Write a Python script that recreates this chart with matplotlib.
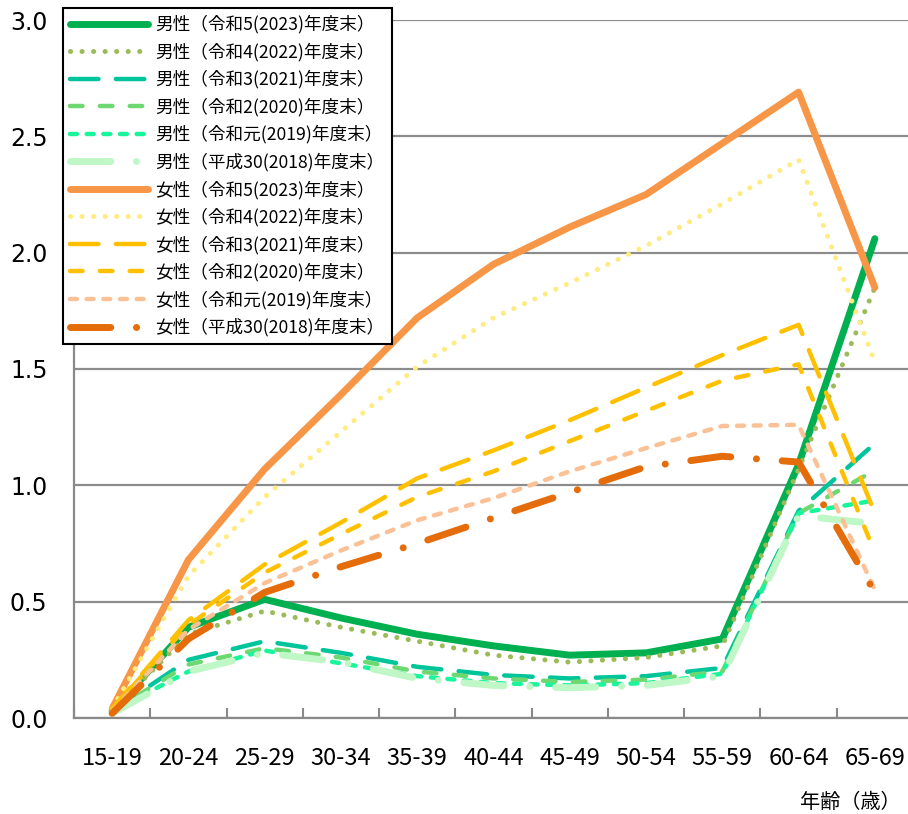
import numpy as np
import matplotlib
matplotlib.use('Agg')
import matplotlib.pyplot as plt

plt.rcParams['font.family'] = ['Noto Sans CJK JP', 'DejaVu Sans']
plt.rcParams['lines.scale_dashes'] = False

# 年齢階級
ages = ['15-19', '20-24', '25-29', '30-34', '35-39', '40-44',
        '45-49', '50-54', '55-59', '60-64', '65-69']

# 男性
m2023 = [0.03, 0.39, 0.51, 0.43, 0.36, 0.31, 0.27, 0.28, 0.34, 1.09, 2.06]
m2022 = [0.03, 0.36, 0.46, 0.39, 0.33, 0.27, 0.24, 0.26, 0.31, 1.07, 1.85]
m2021 = [0.03, 0.25, 0.33, 0.28, 0.22, 0.185, 0.17, 0.18, 0.215, 0.89, 1.18]
m2020 = [0.03, 0.23, 0.30, 0.26, 0.20, 0.17, 0.155, 0.165, 0.20, 0.88, 1.065]
m2019 = [0.03, 0.20, 0.29, 0.235, 0.18, 0.15, 0.14, 0.15, 0.19, 0.88, 0.935]
m2018 = [0.02, 0.20, 0.28, 0.24, 0.17, 0.14, 0.13, 0.14, 0.18, 0.87, 0.835]

# 女性
f2023 = [0.04, 0.68, 1.07, 1.39, 1.72, 1.95, 2.11, 2.25, 2.47, 2.69, 1.85]
f2022 = [0.04, 0.61, 0.95, 1.23, 1.51, 1.72, 1.87, 2.03, 2.21, 2.40, 1.53]
f2021 = [0.04, 0.42, 0.66, 0.84, 1.03, 1.15, 1.28, 1.42, 1.56, 1.69, 0.88]
f2020 = [0.04, 0.40, 0.625, 0.79, 0.95, 1.06, 1.19, 1.32, 1.45, 1.52, 0.71]
f2019 = [0.03, 0.38, 0.58, 0.72, 0.85, 0.945, 1.06, 1.16, 1.255, 1.26, 0.55]
f2018 = [0.02, 0.34, 0.54, 0.65, 0.75, 0.86, 0.97, 1.08, 1.125, 1.10, 0.54]

labels = ['男性（令和5(2023)年度末）', '男性（令和4(2022)年度末）',
          '男性（令和3(2021)年度末）', '男性（令和2(2020)年度末）',
          '男性（令和元(2019)年度末）', '男性（平成30(2018)年度末）',
          '女性（令和5(2023)年度末）', '女性（令和4(2022)年度末）',
          '女性（令和3(2021)年度末）', '女性（令和2(2020)年度末）',
          '女性（令和元(2019)年度末）', '女性（平成30(2018)年度末）']

series = [m2023, m2022, m2021, m2020, m2019, m2018,
          f2023, f2022, f2021, f2020, f2019, f2018]

colors = ['#00B050', '#9BBB59', '#00C49A', '#6ED870', '#19F59B', '#BFF7C6',
          '#F79646', '#FFEB7F', '#FFC000', '#FFC000', '#FBC196', '#E46C0A']

# 線種（ポイント単位）
solid = '-'
dot = (0, (0.1, 8.2))
longdash = (0, (20.5, 12.5))
dash = (0, (9.0, 12.5))
sysdash = (0, (5.0, 7.0))
ldashdot = (0, (29, 18.5, 0.1, 18.5))

styles = [solid, dot, longdash, dash, sysdash, ldashdot,
          solid, dot, longdash, dash, sysdash, ldashdot]
widths = [5, 3.6, 3.2, 3.2, 3.2, 5,
          5, 3.6, 3.2, 3.2, 3.2, 5]

fig = plt.figure(figsize=(9.08, 8.14), dpi=100)
ax = fig.add_axes([74 / 908, 1 - 718 / 814, 839 / 908, 698 / 814])

x = np.arange(len(ages))
for i, (s, lab) in enumerate(zip(series, labels)):
    ax.plot(x, s, color=colors[i], linestyle=styles[i], linewidth=widths[i],
            label=lab, dash_capstyle='round', solid_capstyle='round',
            solid_joinstyle='round', dash_joinstyle='round', zorder=3 + i)

# 軸
ax.set_xlim(-0.5, len(ages) - 0.5)
ax.set_ylim(0, 3.0)
ax.set_yticks(np.arange(0, 3.01, 0.5))
ax.set_yticklabels([f'{v:.1f}' for v in np.arange(0, 3.01, 0.5)],
                   fontsize=17, family='DejaVu Sans')
ax.set_xticks(x)
ax.set_xticklabels(ages, fontsize=17)
ax.set_xticks(np.arange(-0.5, len(ages), 1.0), minor=True)
ax.tick_params(axis='x', which='major', length=0, pad=21)
ax.tick_params(axis='x', which='minor', length=7, direction='in',
               color='#898989', width=1.5)
ax.tick_params(axis='y', length=0, pad=19)

ax.grid(axis='y', color='#8C8C8C', linewidth=1.6)
ax.set_axisbelow(True)
for side in ['top', 'right']:
    ax.spines[side].set_visible(False)
for side in ['left', 'bottom']:
    ax.spines[side].set_color('#898989')
    ax.spines[side].set_linewidth(1.6)

fig.text(901 / 908, 1 - 802 / 814, '年齢（歳）', ha='right', va='center',
         fontsize=14.5)

leg = ax.legend(loc='upper left', bbox_to_anchor=(63 / 908, 1 - 8 / 814),
                bbox_transform=fig.transFigure, borderaxespad=0,
                fontsize=12.7, handlelength=4.4, handletextpad=0.45,
                labelspacing=0.5, borderpad=0.4, fancybox=False,
                framealpha=1, edgecolor='black')
leg.get_frame().set_linewidth(1.5)
leg.set_zorder(20)

fig.savefig('out.png', dpi=100)
